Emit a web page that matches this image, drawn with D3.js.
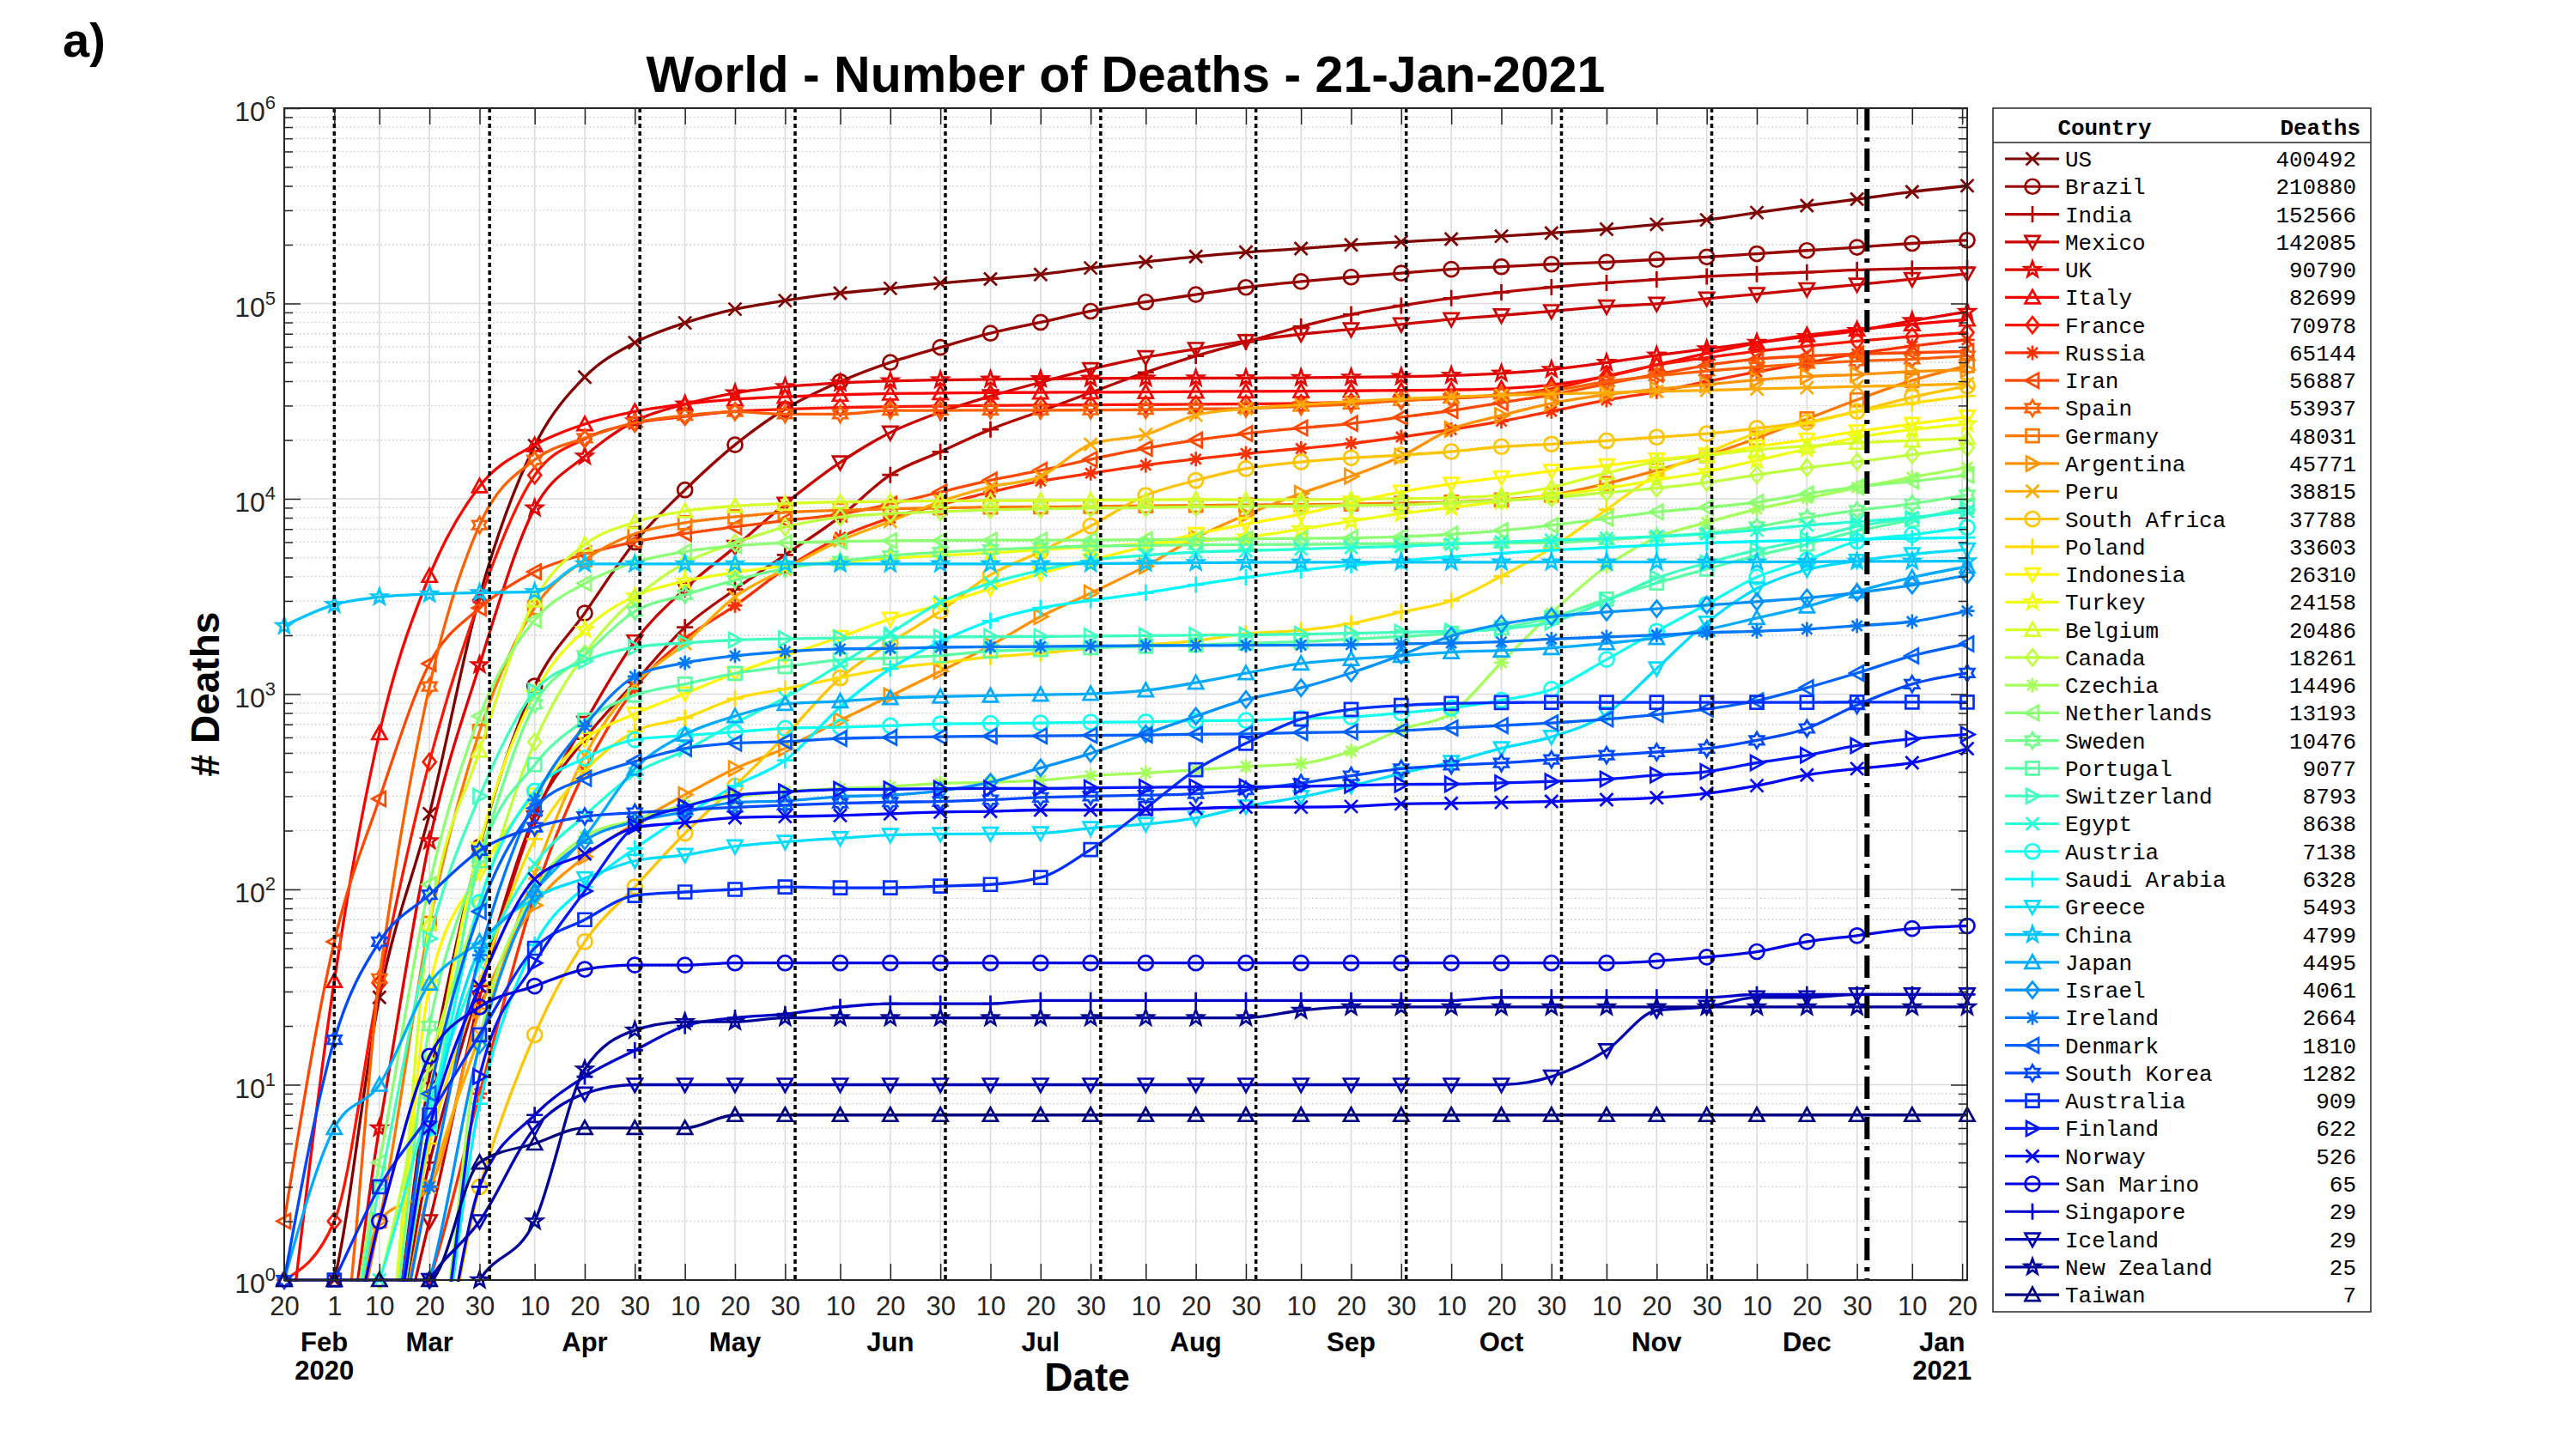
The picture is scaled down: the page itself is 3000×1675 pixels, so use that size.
<!DOCTYPE html>
<html lang="en">
<head>
  <meta charset="UTF-8">
  <title>World - Number of Deaths - 21-Jan-2021</title>
  <style>
    body{ margin: 0; background: #fff; }
    text{ font-family: "Liberation Sans", Arial, sans-serif; }
    .mono{ font-family: "Liberation Mono", "DejaVu Sans Mono", monospace; }
    .series path.line{ fill: none; stroke-width: 3.3px; stroke-linejoin: round; }
    .marker{ fill: none; stroke-width: 2.7px; }
  </style>
</head>
<body>
  <script src="https://cdn.jsdelivr.net/npm/d3@7"></script>
  <script>
    const width = 3000, height = 1675;
    const plotLeft = 331, plotRight = 2291, plotTop = 126, plotBottom = 1491;

    // dates of the sampled values
    const sampleDates = ['2020-02-20','2020-03-01','2020-03-10','2020-03-20','2020-03-30',
      '2020-04-10','2020-04-20','2020-04-30','2020-05-10','2020-05-20',
      '2020-05-30','2020-06-10','2020-06-20','2020-06-30','2020-07-10',
      '2020-07-20','2020-07-30','2020-08-10','2020-08-20','2020-08-30',
      '2020-09-10','2020-09-20','2020-09-30','2020-10-10','2020-10-20',
      '2020-10-30','2020-11-10','2020-11-20','2020-11-30','2020-12-10',
      '2020-12-20','2020-12-30','2021-01-10','2021-01-21'];

    const countries = ['US','Brazil','India','Mexico','UK','Italy','France','Russia','Iran','Spain',
      'Germany','Argentina','Peru','South Africa','Poland','Indonesia','Turkey','Belgium','Canada',
      'Czechia','Netherlands','Sweden','Portugal','Switzerland','Egypt','Austria','Saudi Arabia',
      'Greece','China','Japan','Israel','Ireland','Denmark','South Korea','Australia','Finland',
      'Norway','San Marino','Singapore','Iceland','New Zealand','Taiwan'];

    const US = [0, 1, 28, 244, 3170, 18700, 42000, 63000, 79500, 93500, 103500, 113000, 119500, 127000, 133500, 140800, 152000, 163500, 174000, 183000, 191000, 199500, 206500, 213500, 221000, 229500, 240000, 254000, 268000, 292000, 317000, 342000, 373000, 400492];
    const Brazil = [0, 0, 0, 11, 165, 1100, 2600, 6000, 11100, 18900, 28800, 39800, 49900, 59600, 70400, 80100, 91300, 101800, 111100, 120900, 129500, 136500, 143000, 149700, 154200, 158900, 162800, 168000, 173100, 179800, 186800, 194000, 203100, 210880];
    const India = [0, 0, 0, 4, 32, 240, 590, 1150, 2200, 3430, 5160, 8100, 13250, 17400, 22670, 28080, 34970, 44380, 53870, 63500, 76270, 87880, 97500, 106490, 114030, 121090, 127570, 132730, 137620, 141360, 144450, 148440, 150800, 152566];
    const Mexico = [0, 0, 0, 2, 28, 233, 712, 1859, 3465, 5666, 9415, 15357, 21825, 27769, 33526, 39485, 46000, 53003, 58481, 64158, 69649, 73697, 78078, 83096, 86893, 91289, 96430, 99528, 105940, 111655, 118202, 124897, 133204, 142085];
    const UK = [0, 0, 6, 177, 1411, 8958, 16509, 25000, 30500, 34800, 37500, 39200, 40100, 40600, 40900, 41100, 41300, 41400, 41450, 41550, 41650, 41900, 42200, 42800, 43900, 45900, 49800, 54300, 58500, 63100, 67600, 72500, 81600, 90790];
    const Italy = [0, 34, 631, 4032, 11591, 18849, 24114, 27967, 30560, 32330, 33340, 34114, 34561, 34767, 34926, 35058, 35132, 35209, 35412, 35477, 35587, 35707, 35894, 36111, 36705, 38321, 42330, 48569, 55576, 62626, 68799, 73604, 78394, 82699];
    const France = [1, 2, 33, 450, 3030, 13197, 20265, 24376, 26383, 28022, 28771, 29322, 29640, 29864, 30007, 30177, 30254, 30371, 30480, 30606, 30813, 31274, 31959, 32730, 33885, 36565, 42535, 48341, 52819, 56940, 60549, 64204, 67750, 70978];
    const Russia = [0, 0, 0, 1, 9, 94, 405, 1073, 1915, 2837, 4374, 6358, 7972, 9306, 10826, 12323, 13504, 14854, 15980, 17045, 18080, 19195, 20722, 22597, 24952, 28026, 32032, 35311, 39895, 44718, 49762, 55265, 60457, 65144];
    const Iran = [2, 54, 291, 1433, 2757, 4232, 5209, 6028, 6640, 7183, 7734, 8351, 9392, 10817, 12447, 13979, 15912, 18132, 19972, 21571, 23029, 24301, 26169, 28293, 31034, 34113, 38749, 43417, 48246, 51949, 53816, 55095, 56018, 56887];
    const Spain = [0, 0, 35, 1093, 7340, 15843, 20453, 24543, 26621, 27888, 27125, 27136, 28322, 28355, 28403, 28422, 28445, 28576, 28813, 29011, 29747, 30495, 31791, 32688, 34210, 35878, 39756, 42619, 45069, 47344, 49260, 50689, 51874, 53937];
    const Germany = [0, 0, 2, 67, 645, 2767, 4862, 6623, 7549, 8090, 8522, 8729, 8882, 8976, 9064, 9090, 9134, 9201, 9253, 9298, 9350, 9386, 9500, 9621, 9875, 10452, 11982, 13994, 16636, 20445, 25640, 32107, 40343, 48031];
    const Argentina = [0, 0, 2, 3, 24, 83, 147, 218, 305, 416, 528, 735, 979, 1307, 1774, 2491, 3288, 4523, 6330, 8271, 10658, 13053, 16519, 22710, 26716, 30792, 34183, 36347, 38473, 40606, 42314, 43245, 44848, 45771];
    const Peru = [0, 0, 0, 3, 18, 121, 484, 1124, 1814, 3148, 4371, 6109, 7660, 9677, 11500, 13000, 19000, 21300, 26800, 28900, 30344, 31474, 32463, 33223, 33875, 34411, 34943, 35446, 35923, 36544, 37034, 37574, 38049, 38815];
    const SouthAfrica = [0, 0, 0, 0, 3, 18, 54, 103, 194, 339, 611, 1210, 1831, 2657, 4079, 5368, 7257, 10408, 12423, 14263, 15447, 16206, 16734, 17451, 18492, 19053, 19809, 20671, 21535, 22952, 24691, 28033, 33163, 37788];
    const Poland = [0, 0, 0, 5, 33, 181, 404, 644, 755, 948, 1064, 1215, 1356, 1444, 1551, 1618, 1716, 1787, 1877, 2039, 2124, 2298, 2630, 3008, 4019, 5600, 8800, 13300, 17150, 21630, 24345, 27960, 30892, 33603];
    const Indonesia = [0, 0, 0, 32, 122, 306, 590, 792, 1007, 1278, 1573, 1959, 2429, 2876, 3469, 4143, 4838, 5723, 6594, 7417, 8336, 9553, 10856, 11935, 12857, 13869, 14836, 15884, 16815, 18511, 20085, 22138, 24129, 26310];
    const Turkey = [0, 0, 0, 9, 168, 1006, 2140, 3174, 3786, 4199, 4540, 4746, 4950, 5131, 5282, 5482, 5674, 5891, 6082, 6370, 6990, 7680, 8400, 9030, 9700, 10400, 11300, 12500, 13750, 15750, 18000, 20600, 22600, 24158];
    const Belgium = [0, 0, 0, 67, 513, 3019, 5828, 7594, 8656, 9186, 9453, 9629, 9696, 9747, 9781, 9800, 9836, 9879, 9924, 9878, 9915, 9955, 10027, 10121, 10443, 11452, 13561, 15522, 16645, 17839, 18599, 19362, 19883, 20486];
    const Canada = [0, 0, 1, 13, 85, 569, 1611, 3082, 4693, 5937, 7167, 8049, 8397, 8591, 8773, 8870, 8949, 9015, 9083, 9132, 9181, 9244, 9297, 9557, 9794, 10110, 10770, 11334, 12130, 13251, 14425, 15472, 16832, 18261];
    const Czechia = [0, 0, 0, 0, 17, 99, 186, 227, 270, 297, 317, 329, 336, 349, 354, 362, 382, 395, 410, 426, 441, 511, 659, 800, 1450, 2600, 4519, 6336, 7567, 8854, 10047, 11400, 12900, 14496];
    const Netherlands = [0, 0, 4, 106, 771, 2396, 3691, 4727, 5359, 5748, 5951, 6044, 6097, 6113, 6139, 6142, 6150, 6174, 6201, 6226, 6265, 6309, 6398, 6586, 6870, 7311, 7940, 8563, 9030, 9600, 10600, 11500, 12300, 13193];
    const Sweden = [0, 0, 0, 20, 146, 887, 1580, 2653, 3225, 3831, 4395, 4795, 5122, 5333, 5500, 5619, 5730, 5766, 5810, 5821, 5843, 5865, 5895, 5894, 5929, 5969, 6164, 6406, 6681, 7200, 7993, 8727, 9433, 10476];
    const Portugal = [0, 0, 0, 6, 140, 435, 735, 989, 1126, 1277, 1383, 1497, 1530, 1576, 1660, 1689, 1727, 1756, 1784, 1822, 1855, 1912, 1971, 2050, 2181, 2468, 3062, 3701, 4370, 5124, 5859, 6830, 7803, 9077];
    const Switzerland = [0, 0, 3, 56, 300, 1036, 1478, 1737, 1830, 1892, 1919, 1938, 1956, 1962, 1968, 1972, 1981, 1991, 2002, 2010, 2027, 2048, 2073, 2100, 2157, 2336, 3000, 3926, 4690, 5471, 6170, 7220, 7922, 8793];
    const Egypt = [0, 0, 1, 8, 41, 135, 239, 392, 514, 712, 959, 1422, 2050, 2953, 3702, 4302, 4838, 5141, 5334, 5421, 5529, 5627, 5713, 5858, 6010, 6130, 6270, 6412, 6621, 6919, 7320, 7631, 8036, 8638];
    const Austria = [0, 0, 0, 6, 86, 319, 470, 584, 614, 640, 668, 677, 688, 705, 708, 711, 718, 721, 730, 733, 750, 764, 801, 849, 930, 1058, 1505, 2098, 2886, 3973, 4859, 6059, 6546, 7138];
    const SaudiArabia = [0, 0, 0, 0, 8, 52, 103, 162, 239, 339, 458, 860, 1350, 1858, 2370, 2760, 3020, 3300, 3630, 3960, 4300, 4570, 4810, 5060, 5270, 5460, 5640, 5800, 5940, 6050, 6140, 6210, 6270, 6328];
    const Greece = [0, 0, 0, 6, 49, 90, 114, 140, 150, 166, 175, 183, 190, 192, 193, 194, 206, 216, 232, 266, 297, 339, 393, 449, 528, 604, 793, 1352, 2321, 3473, 4339, 4812, 5198, 5493];
    const China = [2236, 2870, 3140, 3253, 3305, 3339, 4636, 4637, 4637, 4638, 4638, 4638, 4639, 4641, 4641, 4641, 4655, 4681, 4709, 4720, 4731, 4734, 4739, 4739, 4739, 4742, 4742, 4742, 4742, 4746, 4763, 4781, 4785, 4799];
    const Japan = [1, 6, 10, 33, 54, 99, 186, 415, 621, 771, 891, 919, 955, 972, 982, 994, 1004, 1045, 1144, 1279, 1435, 1512, 1571, 1639, 1673, 1722, 1822, 1937, 2139, 2452, 2811, 3353, 3956, 4495];
    const Israel = [0, 0, 0, 1, 16, 95, 177, 222, 249, 279, 284, 299, 304, 320, 354, 419, 497, 626, 770, 937, 1077, 1285, 1583, 1986, 2281, 2490, 2632, 2736, 2853, 2974, 3110, 3309, 3615, 4061];
    const Ireland = [0, 0, 0, 3, 46, 287, 687, 1232, 1446, 1571, 1650, 1703, 1714, 1736, 1746, 1753, 1763, 1772, 1774, 1777, 1781, 1792, 1810, 1826, 1852, 1913, 1961, 2006, 2064, 2099, 2149, 2237, 2352, 2664];
    const Denmark = [0, 0, 0, 9, 77, 260, 370, 452, 527, 561, 571, 593, 600, 605, 609, 611, 615, 618, 623, 626, 635, 640, 650, 671, 690, 712, 745, 786, 838, 925, 1078, 1281, 1570, 1810];
    const SouthKorea = [1, 17, 54, 94, 158, 208, 236, 247, 256, 263, 270, 276, 280, 282, 288, 296, 300, 304, 309, 323, 350, 382, 415, 432, 444, 463, 487, 505, 526, 580, 667, 879, 1125, 1282];
    const Australia = [0, 1, 3, 7, 18, 50, 70, 93, 97, 100, 103, 102, 102, 104, 106, 115, 160, 260, 410, 560, 745, 835, 875, 895, 905, 907, 907, 907, 907, 908, 908, 909, 909, 909];
    const Finland = [0, 0, 0, 0, 11, 42, 98, 211, 265, 304, 316, 325, 326, 328, 329, 329, 331, 333, 335, 335, 337, 341, 345, 346, 351, 357, 367, 385, 401, 445, 486, 545, 590, 622];
    const Norway = [0, 0, 0, 6, 32, 113, 152, 207, 220, 233, 236, 239, 244, 249, 251, 255, 255, 256, 260, 264, 264, 266, 274, 276, 279, 282, 288, 295, 310, 340, 385, 415, 445, 526];
    const SanMarino = [0, 0, 2, 14, 25, 32, 39, 41, 41, 42, 42, 42, 42, 42, 42, 42, 42, 42, 42, 42, 42, 42, 42, 42, 42, 42, 42, 43, 45, 48, 54, 58, 63, 65];
    const Singapore = [0, 0, 0, 0, 3, 7, 11, 15, 20, 22, 23, 25, 26, 26, 26, 27, 27, 27, 27, 27, 27, 27, 27, 27, 28, 28, 28, 28, 28, 29, 29, 29, 29, 29];
    const Iceland = [0, 0, 0, 1, 2, 6, 9, 10, 10, 10, 10, 10, 10, 10, 10, 10, 10, 10, 10, 10, 10, 10, 10, 10, 10, 11, 15, 24, 25, 28, 28, 29, 29, 29];
    const NewZealand = [0, 0, 0, 0, 1, 2, 12, 19, 21, 21, 22, 22, 22, 22, 22, 22, 22, 22, 22, 22, 24, 25, 25, 25, 25, 25, 25, 25, 25, 25, 25, 25, 25, 25];
    const Taiwan = [1, 1, 1, 1, 4, 5, 6, 6, 6, 7, 7, 7, 7, 7, 7, 7, 7, 7, 7, 7, 7, 7, 7, 7, 7, 7, 7, 7, 7, 7, 7, 7, 7, 7];

    const seriesValues = [US, Brazil, India, Mexico, UK, Italy, France, Russia, Iran, Spain,
      Germany, Argentina, Peru, SouthAfrica, Poland, Indonesia, Turkey, Belgium, Canada,
      Czechia, Netherlands, Sweden, Portugal, Switzerland, Egypt, Austria, SaudiArabia,
      Greece, China, Japan, Israel, Ireland, Denmark, SouthKorea, Australia, Finland,
      Norway, SanMarino, Singapore, Iceland, NewZealand, Taiwan];

    const markerCycle = ['x','o','+','v','p','^','d','*','<','h','s','>'];

    // axis ticks and labels
    const xTickDates = ['2020-02-20','2020-03-01','2020-03-10','2020-03-20','2020-03-30',
      '2020-04-10','2020-04-20','2020-04-30','2020-05-10','2020-05-20','2020-05-30',
      '2020-06-10','2020-06-20','2020-06-30','2020-07-10','2020-07-20','2020-07-30',
      '2020-08-10','2020-08-20','2020-08-30','2020-09-10','2020-09-20','2020-09-30',
      '2020-10-10','2020-10-20','2020-10-30','2020-11-10','2020-11-20','2020-11-30',
      '2020-12-10','2020-12-20','2020-12-30','2021-01-10','2021-01-20'];
    const monthNames = ['Feb','Mar','Apr','May','Jun','Jul','Aug','Sep','Oct','Nov','Dec','Jan'];
    const monthNameDates = ['2020-02-28','2020-03-20','2020-04-20','2020-05-20','2020-06-20','2020-07-20',
      '2020-08-20','2020-09-20','2020-10-20','2020-11-20','2020-12-20','2021-01-16'];
    const yearNames = ['2020','2021'];
    const yearNameDates = ['2020-02-28','2021-01-16'];
    const monthStartLines = ['2020-03-01','2020-04-01','2020-05-01','2020-06-01','2020-07-01','2020-08-01',
      '2020-09-01','2020-10-01','2020-11-01','2020-12-01'];
    const yearStartLine = '2021-01-01';
    const yTickValues = [1, 10, 100, 1000, 10000, 100000, 1000000];

    const parse = d3.timeParse('%Y-%m-%d');
    const floorValue = 0.3;   // zero counts fall below the log axis

    const x = d3.scaleTime().domain([parse('2020-02-20'), parse('2021-01-21')]).range([plotLeft, plotRight]);
    const y = d3.scaleLog().domain([1, 1e6]).range([plotBottom, plotTop]);

    function jet(t){
      const c = v => Math.max(0, Math.min(1, v));
      return d3.rgb(255 * c(1.5 - Math.abs(4 * t - 3)), 255 * c(1.5 - Math.abs(4 * t - 2)),
        255 * c(1.5 - Math.abs(4 * t - 1))).formatHex();
    }
    const color = i => jet(1 - i / (countries.length - 1));

    function star(n, ro, ri){
      const pts = [];
      for(let k = 0; k < 2 * n; k++){
        const a = -Math.PI / 2 + k * Math.PI / n, r = k % 2 ? ri : ro;
        pts.push([r * Math.cos(a), r * Math.sin(a)]);
      }
      return 'M' + pts.map(p => p[0].toFixed(2) + ',' + p[1].toFixed(2)).join('L') + 'Z';
    }
    function markerPath(type){
      switch(type){
        case 'x': return 'M-7.5,-7.5L7.5,7.5M-7.5,7.5L7.5,-7.5';
        case 'o': return 'M8.5,0A8.5,8.5 0 1,1 -8.5,0A8.5,8.5 0 1,1 8.5,0Z';
        case '+': return 'M-9.5,0L9.5,0M0,-9.5L0,9.5';
        case 'v': return 'M-8.5,-7L8.5,-7L0,8.5Z';
        case '^': return 'M-8.5,7L8.5,7L0,-8.5Z';
        case '<': return 'M7,-8.5L7,8.5L-8.5,0Z';
        case '>': return 'M-7,-8.5L-7,8.5L8.5,0Z';
        case 'd': return 'M0,-9.5L7.5,0L0,9.5L-7.5,0Z';
        case 's': return 'M-7.5,-7.5L7.5,-7.5L7.5,7.5L-7.5,7.5Z';
        case '*': return 'M-8.5,0L8.5,0M0,-8.5L0,8.5M-6,-6L6,6M-6,6L6,-6';
        case 'p': return star(5, 9.5, 3.9);
        case 'h': return star(6, 9.5, 5.5);
      }
    }

    const svg = d3.select('body').append('svg').attr('width', width).attr('height', height);

    svg.append('defs').append('clipPath').attr('id', 'plot-clip')
      .append('rect').attr('x', plotLeft).attr('y', plotTop - 2)
      .attr('width', plotRight - plotLeft).attr('height', plotBottom - plotTop + 4);

    // grid
    const grid = svg.append('g');
    const minorValues = [];
    for(let k = 0; k < 6; k++) for(let m = 2; m < 10; m++) minorValues.push(m * Math.pow(10, k));
    grid.selectAll('line.minor').data(minorValues).enter().append('line')
      .attr('x1', plotLeft).attr('x2', plotRight).attr('y1', d => y(d)).attr('y2', d => y(d))
      .attr('stroke', '#c8c8c8').attr('stroke-width', 1.3).attr('stroke-dasharray', '1.5,3');
    grid.selectAll('line.major').data(yTickValues).enter().append('line')
      .attr('x1', plotLeft).attr('x2', plotRight).attr('y1', d => y(d)).attr('y2', d => y(d))
      .attr('stroke', '#dcdcdc').attr('stroke-width', 1.6);
    grid.selectAll('line.vert').data(xTickDates).enter().append('line')
      .attr('x1', d => x(parse(d))).attr('x2', d => x(parse(d))).attr('y1', plotTop).attr('y2', plotBottom)
      .attr('stroke', '#dcdcdc').attr('stroke-width', 1.6);

    // series
    const line = d3.line().curve(d3.curveMonotoneX)
      .x(d => x(d.date)).y(d => y(Math.max(d.v, floorValue)));
    const series = countries.map((name, i) => ({
      name: name, color: color(i), marker: markerCycle[i % markerCycle.length],
      points: seriesValues[i].map((v, j) => ({ date: parse(sampleDates[j]), v: v })),
      last: seriesValues[i][seriesValues[i].length - 1]
    }));

    const plot = svg.append('g');
    series.forEach(s => {
      const g = plot.append('g').attr('class', 'series');
      g.append('path').attr('class', 'line').attr('clip-path', 'url(#plot-clip)')
        .attr('stroke', s.color).attr('d', line(s.points));
      g.selectAll('path.marker').data(s.points.filter(p => p.v >= 1)).enter().append('path')
        .attr('class', 'marker').attr('stroke', s.color)
        .attr('transform', p => `translate(${x(p.date)},${y(p.v)})`)
        .attr('d', markerPath(s.marker));
    });

    // month boundaries
    svg.selectAll('line.month').data(monthStartLines).enter().append('line')
      .attr('x1', d => x(parse(d))).attr('x2', d => x(parse(d))).attr('y1', plotTop).attr('y2', plotBottom)
      .attr('stroke', '#000').attr('stroke-width', 3.5).attr('stroke-dasharray', '5,4');
    svg.append('line')
      .attr('x1', x(parse(yearStartLine))).attr('x2', x(parse(yearStartLine)))
      .attr('y1', plotTop).attr('y2', plotBottom)
      .attr('stroke', '#000').attr('stroke-width', 6).attr('stroke-dasharray', '26,8,5,8');

    // axes
    function styleAxis(g){
      g.select('.domain').remove();
      g.selectAll('.tick line').attr('stroke', '#262626').attr('stroke-width', 1.5);
    }
    svg.append('g').attr('transform', `translate(0,${plotBottom})`)
      .call(d3.axisBottom(x).tickValues(xTickDates.map(parse)).tickFormat(d3.timeFormat('%-d'))
        .tickSizeInner(-19).tickSizeOuter(0).tickPadding(19))
      .call(styleAxis)
      .call(g => g.selectAll('.tick text').attr('font-size', 31).attr('fill', '#262626')
        .attr('font-family', '"Liberation Sans", Arial, sans-serif'));
    svg.append('g').attr('transform', `translate(0,${plotTop})`)
      .call(d3.axisTop(x).tickValues(xTickDates.map(parse)).tickFormat('').tickSizeInner(-19).tickSizeOuter(0))
      .call(styleAxis);
    [[d3.axisLeft, plotLeft], [d3.axisRight, plotRight]].forEach(([axis, pos]) => {
      svg.append('g').attr('transform', `translate(${pos},0)`)
        .call(axis(y).tickValues(yTickValues).tickFormat('').tickSizeInner(-19).tickSizeOuter(0))
        .call(styleAxis);
      svg.append('g').attr('transform', `translate(${pos},0)`)
        .call(axis(y).tickValues(minorValues).tickFormat('').tickSizeInner(-10).tickSizeOuter(0))
        .call(styleAxis);
    });
    svg.append('rect').attr('x', plotLeft).attr('y', plotTop)
      .attr('width', plotRight - plotLeft).attr('height', plotBottom - plotTop)
      .attr('fill', 'none').attr('stroke', '#262626').attr('stroke-width', 2);

    const yLabels = svg.append('g').selectAll('text').data(yTickValues).enter().append('text')
      .attr('x', 321).attr('y', d => y(d) + 15).attr('text-anchor', 'end').attr('fill', '#262626');
    yLabels.append('tspan').attr('font-size', 32).text('10');
    yLabels.append('tspan').attr('font-size', 22).attr('dy', -14).text(d => Math.round(Math.log10(d)));

    svg.append('g').selectAll('text').data(monthNames).enter().append('text')
      .attr('x', (d, i) => x(parse(monthNameDates[i]))).attr('y', 1574)
      .attr('text-anchor', 'middle').attr('font-size', 31).attr('font-weight', 'bold').text(d => d);
    svg.append('g').selectAll('text').data(yearNames).enter().append('text')
      .attr('x', (d, i) => x(parse(yearNameDates[i]))).attr('y', 1607)
      .attr('text-anchor', 'middle').attr('font-size', 31).attr('font-weight', 'bold').text(d => d);

    svg.append('text').attr('x', 1266).attr('y', 1620).attr('text-anchor', 'middle')
      .attr('font-size', 46).attr('font-weight', 'bold').text('Date');
    svg.append('text').attr('transform', `translate(255,${(plotTop + plotBottom) / 2}) rotate(-90)`)
      .attr('text-anchor', 'middle').attr('font-size', 46).attr('font-weight', 'bold').text('# Deaths');
    svg.append('text').attr('x', (plotLeft + plotRight) / 2).attr('y', 107).attr('text-anchor', 'middle')
      .attr('font-size', 59).attr('font-weight', 'bold').text('World - Number of Deaths - 21-Jan-2021');
    svg.append('text').attr('x', 73).attr('y', 66).attr('font-size', 56).attr('font-weight', 'bold').text('a)');

    // legend table
    const lx = 2321, ly = 126, lw = 440, lh = 1402, rowTop = 185, rowStep = 32.27;
    const legend = svg.append('g');
    legend.append('rect').attr('x', lx).attr('y', ly).attr('width', lw).attr('height', lh)
      .attr('fill', '#fff').attr('stroke', '#262626').attr('stroke-width', 1.5);
    legend.append('line').attr('x1', lx).attr('x2', lx + lw).attr('y1', 166).attr('y2', 166)
      .attr('stroke', '#262626').attr('stroke-width', 1.5);
    legend.append('text').attr('class', 'mono').attr('x', 2451).attr('y', 157).attr('text-anchor', 'middle')
      .attr('font-size', 26).attr('font-weight', 'bold').text('Country');
    legend.append('text').attr('class', 'mono').attr('x', 2749).attr('y', 157).attr('text-anchor', 'end')
      .attr('font-size', 26).attr('font-weight', 'bold').text('Deaths');
    const rows = legend.selectAll('g.row').data(series).enter().append('g')
      .attr('transform', (d, i) => `translate(0,${rowTop + i * rowStep})`);
    rows.append('line').attr('x1', 2335).attr('x2', 2398).attr('y1', 0).attr('y2', 0)
      .attr('stroke', d => d.color).attr('stroke-width', 3.2);
    rows.append('path').attr('class', 'marker').attr('transform', 'translate(2367,0)')
      .attr('stroke', d => d.color).attr('d', d => markerPath(d.marker));
    rows.append('text').attr('class', 'mono').attr('x', 2405).attr('y', 9)
      .attr('font-size', 26).text(d => d.name);
    rows.append('text').attr('class', 'mono').attr('x', 2744).attr('y', 9).attr('text-anchor', 'end')
      .attr('font-size', 26).text(d => d.last);
  </script>
</body>
</html>
